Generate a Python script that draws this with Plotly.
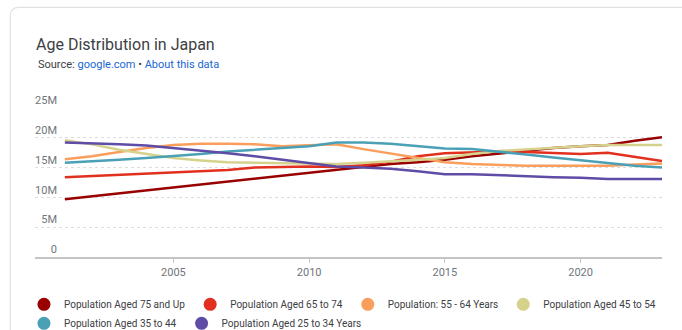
import plotly.graph_objects as go

years = list(range(2001, 2024))

aged_75_up = [9.7, 10.2, 10.7, 11.2, 11.6, 12.1, 12.6, 13.1, 13.6, 14.1, 14.7, 15.2,
              15.6, 15.9, 16.3, 16.9, 17.4, 17.9, 18.3, 18.6, 18.8, 19.5, 20.1]
aged_65_74 = [13.4, 13.6, 13.8, 13.9, 14.1, 14.3, 14.6, 15.0, 15.1, 15.2, 15.1, 15.4,
              16.0, 16.9, 17.4, 17.6, 17.7, 17.6, 17.4, 17.3, 17.5, 16.8, 16.1]
aged_55_64 = [16.4, 16.9, 17.6, 18.3, 18.8, 19.0, 19.0, 18.9, 18.6, 18.7, 18.9, 18.1,
              17.4, 16.6, 15.9, 15.6, 15.4, 15.3, 15.3, 15.3, 15.3, 15.5, 15.7]
aged_45_54 = [19.6, 18.9, 18.0, 17.3, 16.6, 16.2, 15.9, 15.8, 15.7, 15.6, 15.6, 15.8,
              16.0, 16.3, 16.6, 17.3, 17.8, 18.1, 18.4, 18.6, 18.8, 18.8, 18.8]
aged_35_44 = [15.8, 16.0, 16.3, 16.6, 16.9, 17.3, 17.7, 18.0, 18.3, 18.6, 19.2, 19.2,
              19.0, 18.6, 18.2, 18.1, 17.7, 17.2, 16.7, 16.2, 15.7, 15.3, 15.0]
aged_25_34 = [19.2, 19.1, 18.9, 18.7, 18.3, 17.8, 17.4, 16.9, 16.3, 15.7, 15.2, 15.0,
              14.8, 14.4, 13.9, 13.9, 13.7, 13.6, 13.4, 13.3, 13.1, 13.1, 13.1]

series_names = ["Population Aged 75 and Up", "Population Aged 65 to 74",
                "Population: 55 - 64 Years", "Population Aged 45 to 54",
                "Population Aged 35 to 44", "Population Aged 25 to 34 Years"]
series_values = [aged_75_up, aged_65_74, aged_55_64, aged_45_54, aged_35_44, aged_25_34]
colors = ["#990000", "#e2301f", "#fa9e5b", "#d5d28c", "#4aa1b6", "#5f4ca6"]

y_tickvals = [0, 5e6, 10e6, 15e6, 20e6, 25e6]
y_ticktext = ["0", "5M", "10M", "15M", "20M", "25M"]
x_tickvals = [2005, 2010, 2015, 2020]

fig = go.Figure()
for name, vals, col in zip(series_names, series_values, colors):
    fig.add_trace(go.Scatter(
        x=years, y=[v * 1e6 for v in vals], mode="lines", name=name,
        line=dict(color=col, width=2.5), showlegend=False, legendgroup=name
    ))
    # legend entry drawn as a round dot
    fig.add_trace(go.Scatter(
        x=[None], y=[None], mode="markers", name=name, legendgroup=name,
        marker=dict(color=col, size=13)
    ))

fig.update_xaxes(
    range=[1999.9, 2023], tickvals=x_tickvals, showgrid=False, zeroline=False,
    showline=True, linecolor="#c4c4c4", linewidth=2, automargin=False,
    ticks="outside", ticklen=4, tickcolor="#c4c4c4", tickwidth=1,
    tickfont=dict(family="Roboto", size=11, color="#70757a")
)
fig.update_yaxes(
    range=[0, 25e6], tickvals=y_tickvals, ticktext=y_ticktext,
    showgrid=True, gridcolor="#dddddd", griddash="dot", gridwidth=1,
    zeroline=False, showline=False, automargin=False,
    ticklabelposition="outside top", ticklabelstandoff=-23,
    tickfont=dict(family="Roboto", size=11, color="#70757a")
)

# card outline
rx, ry = 9 / 627, 9 / 148.7
x0, yt = -0.0395, 1.676
fig.add_shape(
    type="path", xref="paper", yref="paper",
    path=f"M {x0},-0.7 L {x0},{yt - ry} Q {x0},{yt} {x0 + rx},{yt} L 1.2,{yt}",
    line=dict(color="#dfe1e5", width=1.2)
)

fig.add_annotation(
    xref="paper", yref="paper", x=0.0016, y=1.289, xanchor="left", yanchor="middle",
    showarrow=False,
    text="Source: <span style='color:#1a67d2'>google.com</span> • "
         "<span style='color:#1a67d2'>About this data</span>",
    font=dict(family="Roboto", size=11, color="#3c4043")
)

fig.update_layout(
    width=682, height=330,
    paper_bgcolor="white", plot_bgcolor="white",
    margin=dict(l=35, r=20, t=108, b=73, autoexpand=False),
    title=dict(
        text="Age Distribution in Japan", x=36 / 682, xanchor="left",
        xref="container", y=1 - 44 / 330, yref="container", yanchor="middle",
        font=dict(family="Roboto", size=16, color="#3c4043")
    ),
    legend=dict(
        orientation="h", x=-0.0176, xanchor="left", y=-0.22, yanchor="top",
        font=dict(family="Roboto", size=10, color="#3c4043"),
        itemwidth=30, tracegroupgap=0
    ),
    hovermode=False
)

fig.write_html("out.html", config={"displayModeBar": False},
               post_script="document.body.style.margin='0';")
